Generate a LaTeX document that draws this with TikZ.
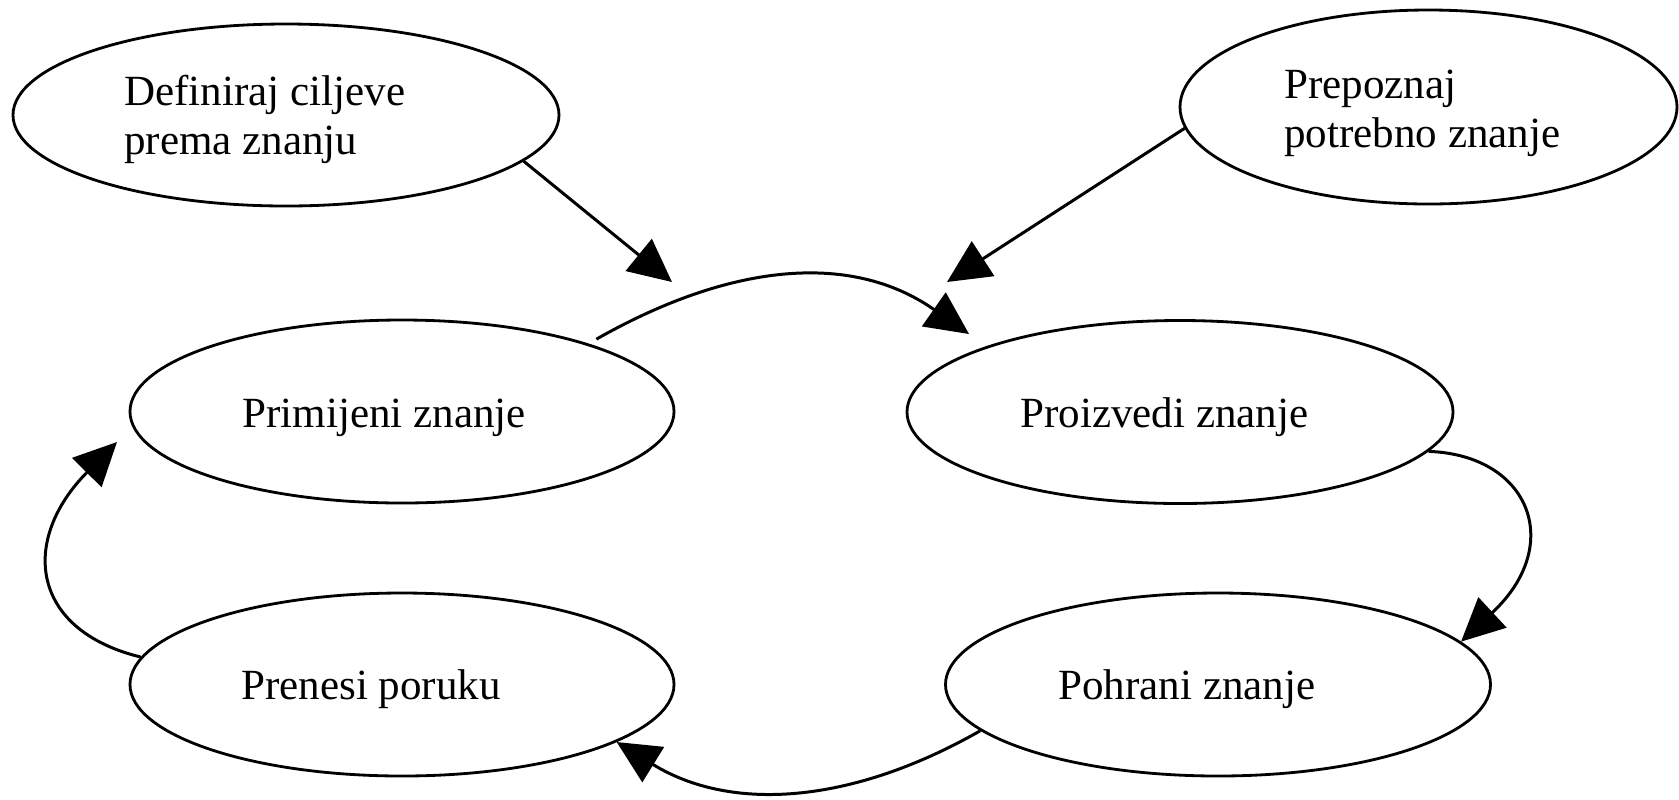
\documentclass[tikz,border=0pt]{standalone}
\usepackage{fontspec}
\setmainfont{Liberation Serif}
\usetikzlibrary{arrows.meta,shapes.geometric}
\newdimen\pxu \pxu=0.02cm
\begin{document}
\begin{tikzpicture}[x=0.02cm,y=-0.02cm,
  bub/.style={ellipse, draw, line width=1.6pt, inner sep=0pt},
  lbl/.style={anchor=base west, inner sep=0pt, font=\fontsize{24.5pt}{28pt}\selectfont},
  conn/.style={line width=1.7pt, -{Triangle[length=0.86cm,width=0.82cm]}}]
\useasboundingbox (0,0) rectangle (1679,799);
% ellipses
\node[bub, minimum width=546\pxu, minimum height=182\pxu] (def) at (286,115) {};
\node[bub, minimum width=497\pxu, minimum height=194\pxu] (prep) at (1428.5,107) {};
\node[bub, minimum width=544\pxu, minimum height=183\pxu] (prim) at (402,411.5) {};
\node[bub, minimum width=546\pxu, minimum height=183\pxu] (proiz) at (1180,412) {};
\node[bub, minimum width=544\pxu, minimum height=183\pxu] (pren) at (402,684.5) {};
\node[bub, minimum width=545\pxu, minimum height=183\pxu] (pohr) at (1218,684.5) {};
% texts
\node[lbl] (defA) at (124,105) {Definiraj ciljeve};
\node[lbl] (defB) at (124,154) {prema znanju};
\node[lbl] (prepA) at (1284,98) {Prepoznaj};
\node[lbl] (prepB) at (1284,147) {potrebno znanje};
\node[lbl] (primT) at (242,427) {Primijeni znanje};
\node[lbl] (proizT) at (1020,427) {Proizvedi znanje};
\node[lbl] (prenT) at (241,699) {Prenesi poruku};
\node[lbl] (pohrT) at (1058,699) {Pohrani znanje};
% free ends
\coordinate (a1) at (672,282);
\coordinate (a2) at (947,282);
\coordinate (c1tip) at (969,334);
\coordinate (c4tip) at (117,442);
% connectors
\draw[conn] (def.-11.5) -- (a1);
\draw[conn] (prep.185) -- (a2);
\draw[conn, shorten <=9\pxu] (prim.20) .. controls (727,265) and (849,250) .. (c1tip);
\draw[conn] (proiz.-9) .. controls (1530,455) and (1565,545) .. (pohr.10.4);
\draw[conn] (pohr.191) .. controls (850,805) and (730,812) .. (pren.-15);
\draw[conn] (pren.174) .. controls (30,630) and (20,540) .. (c4tip);
\end{tikzpicture}
\end{document}
